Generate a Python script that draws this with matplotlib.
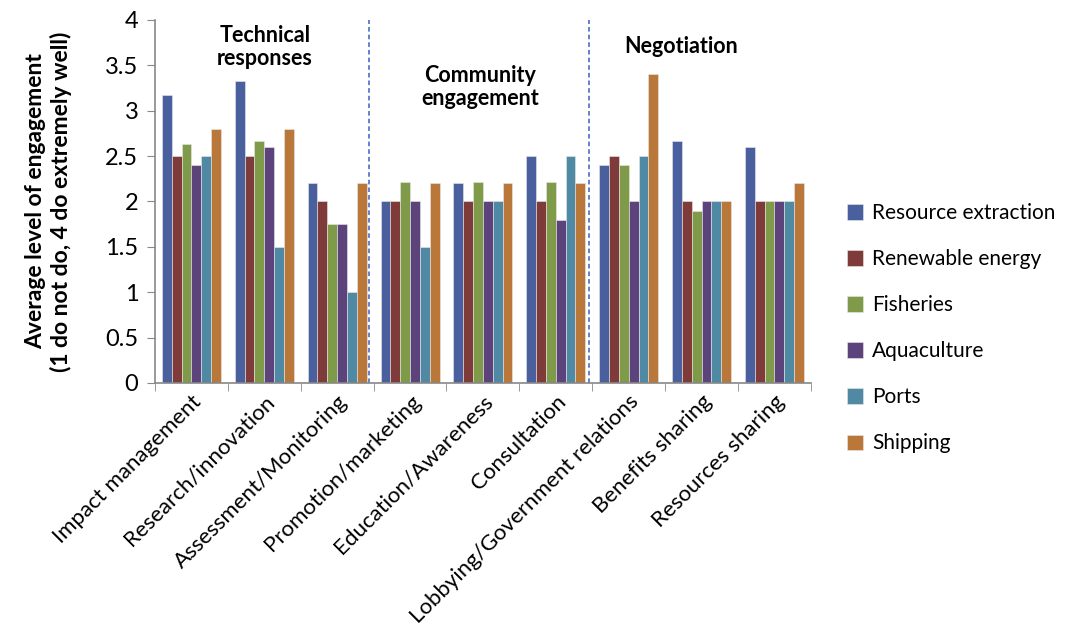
import matplotlib.pyplot as plt
import numpy as np

plt.rcParams['font.family'] = ['Lato', 'DejaVu Sans']

categories = ['Impact management', 'Research/innovation', 'Assessment/Monitoring',
              'Promotion/marketing', 'Education/Awareness', 'Consultation',
              'Lobbying/Government relations', 'Benefits sharing', 'Resources sharing']

resource_extraction = [3.17, 3.33, 2.2, 2.0, 2.2, 2.5, 2.4, 2.67, 2.6]
renewable_energy = [2.5, 2.5, 2.0, 2.0, 2.0, 2.0, 2.5, 2.0, 2.0]
fisheries = [2.63, 2.67, 1.75, 2.22, 2.22, 2.22, 2.4, 1.89, 2.0]
aquaculture = [2.4, 2.6, 1.75, 2.0, 2.0, 1.8, 2.0, 2.0, 2.0]
ports = [2.5, 1.5, 1.0, 1.5, 2.0, 2.5, 2.5, 2.0, 2.0]
shipping = [2.8, 2.8, 2.2, 2.2, 2.2, 2.2, 3.4, 2.0, 2.2]

series = [('Resource extraction', resource_extraction, '#4a5f9e'),
          ('Renewable energy', renewable_energy, '#7f3a3a'),
          ('Fisheries', fisheries, '#7f9a48'),
          ('Aquaculture', aquaculture, '#5d437c'),
          ('Ports', ports, '#5089a3'),
          ('Shipping', shipping, '#b9773a')]

fig = plt.figure(figsize=(10.74, 6.4), dpi=100)
ax = fig.add_axes([0.1443, 0.4016, 0.6107, 0.5672])

x = np.arange(len(categories))
w = 0.135
for i, (name, vals, col) in enumerate(series):
    ax.bar(x + (i - 2.5) * w, vals, w, color=col, label=name,
           edgecolor='#e8e8e8', linewidth=0.4)

ax.set_xlim(-0.5, len(categories) - 0.5)
ax.set_ylim(0, 4)
ax.set_yticks(np.arange(0, 4.01, 0.5))
ax.set_yticklabels(['0', '0.5', '1', '1.5', '2', '2.5', '3', '3.5', '4'], fontsize=17)
ax.set_xticks(x)
ax.set_xticklabels(categories, rotation=45, ha='right', rotation_mode='anchor',
                   fontsize=16)
ax.tick_params(axis='x', length=0, pad=6)
ax.set_xticks(np.arange(-0.5, len(categories) + 0.5, 1), minor=True)
ax.tick_params(axis='x', which='minor', length=6, color='#888888', direction='out')
ax.tick_params(axis='y', length=6, color='#888888', direction='out', pad=6)

for s in ['top', 'right']:
    ax.spines[s].set_visible(False)
for s in ['left', 'bottom']:
    ax.spines[s].set_color('#888888')
    ax.spines[s].set_linewidth(1.2)

ax.set_ylabel('Average level of engagement\n(1 do not do, 4 do extremely well)',
              fontsize=16.5, fontweight='bold', labelpad=24)

for xv in [2.43, 5.45]:
    ax.axvline(xv, color='#3a5fc0', linestyle=(0, (3, 2)), linewidth=1.1)

ax.text(1.01, 3.70, 'Technical\nresponses', ha='center', va='center',
        fontsize=15.5, fontweight='bold', linespacing=1.15)
ax.text(3.96, 3.26, 'Community\nengagement', ha='center', va='center',
        fontsize=15.5, fontweight='bold', linespacing=1.15)
ax.text(6.72, 3.71, 'Negotiation', ha='center', va='center',
        fontsize=15.5, fontweight='bold')

fig.legend(loc='center left', bbox_to_anchor=(0.789, 0.487), frameon=False,
           fontsize=15, handlelength=0.75, handleheight=0.75, handletextpad=0.45,
           labelspacing=1.25, borderaxespad=0, borderpad=0)

fig.savefig('out.png', dpi=100)
